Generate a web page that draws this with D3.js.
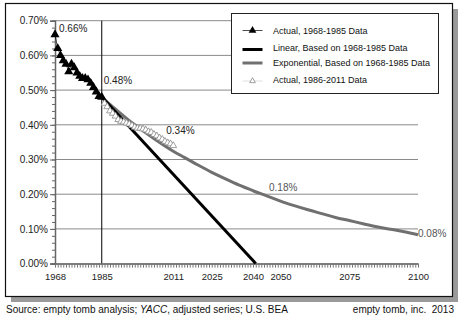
<!DOCTYPE html>
<html>
<head>
<meta charset="utf-8">
<script src="https://cdn.jsdelivr.net/npm/d3@7"></script>
<style>
  body { margin: 0; background: #fff; }
  svg { font-family: "Liberation Sans", Arial, sans-serif; }
</style>
</head>
<body>
<svg id="chart"></svg>
<script>
const size = { width: 465, height: 321 };
const margin = { top: 20.7, right: 47, bottom: 57.4, left: 55 };

// actual giving, percent of income
const years1 = [1968, 1969, 1970, 1971, 1972, 1973, 1974, 1975, 1976, 1977, 1978, 1979, 1980, 1981, 1982, 1983, 1984, 1985];
const actual1 = [0.66, 0.62, 0.6, 0.585, 0.575, 0.553, 0.575, 0.565, 0.55, 0.54, 0.534, 0.534, 0.53, 0.52, 0.508, 0.495, 0.482, 0.48];

const years2 = [1986, 1987, 1988, 1989, 1990, 1991, 1992, 1993, 1994, 1995, 1996, 1997, 1998, 1999, 2000, 2001, 2002, 2003, 2004, 2005, 2006, 2007, 2008, 2009, 2010, 2011];
const actual2 = [0.462, 0.452, 0.44, 0.433, 0.425, 0.415, 0.41, 0.408, 0.405, 0.402, 0.398, 0.393, 0.39, 0.39, 0.388, 0.385, 0.38, 0.378, 0.372, 0.368, 0.362, 0.358, 0.352, 0.348, 0.345, 0.34];

// trend lines fitted on 1968-1985
const linearYears = [1985, 2041];
const linearVals = [0.48, 0];
const expYears = [1985, 1990, 1995, 2000, 2005, 2011, 2015, 2020, 2025, 2030, 2035, 2040, 2045, 2050, 2055, 2060, 2065, 2070, 2075, 2080, 2085, 2090, 2095, 2100];
const expVals = [0.48, 0.445, 0.412, 0.383, 0.355, 0.324, 0.306, 0.284, 0.263, 0.244, 0.226, 0.21, 0.195, 0.18, 0.167, 0.155, 0.144, 0.133, 0.124, 0.115, 0.106, 0.099, 0.092, 0.083];

const xTicks = [1968, 1985, 2011, 2025, 2040, 2050, 2075, 2100];
const yTicks = [0, 0.1, 0.2, 0.3, 0.4, 0.5, 0.6, 0.7];

const legendItems = [
  "Actual, 1968-1985 Data",
  "Linear, Based on 1968-1985 Data",
  "Exponential, Based on 1968-1985 Data",
  "Actual, 1986-2011 Data"
];

const pct = (v) => d3.format(".2f")(v) + "%";

const svg = d3.select("#chart").attr("width", size.width).attr("height", size.height);

// frame with drop shadow
svg.append("rect")
  .attr("x", 11).attr("y", 9).attr("width", 447).attr("height", 293)
  .attr("fill", "#9a9a9a");
svg.append("rect")
  .attr("x", 5.5).attr("y", 3.5).attr("width", 447).attr("height", 293)
  .attr("fill", "#fff").attr("stroke", "#111").attr("stroke-width", 1.2);

const x = d3.scaleLinear()
  .domain([1968, 2100])
  .range([margin.left, size.width - margin.right]);

const y = d3.scaleLinear()
  .domain([0, 0.7])
  .range([size.height - margin.bottom, margin.top]);

// gridlines
svg.append("g")
  .selectAll("line")
  .data(yTicks.filter((d) => d > 0))
  .enter()
  .append("line")
  .attr("x1", x(1968)).attr("x2", x(2100))
  .attr("y1", (d) => y(d)).attr("y2", (d) => y(d))
  .attr("stroke", "#8a8a8a").attr("stroke-width", 1);

// 1985 divider
svg.append("line")
  .attr("x1", x(1985)).attr("x2", x(1985))
  .attr("y1", y(0.7)).attr("y2", y(0))
  .attr("stroke", "#000").attr("stroke-width", 1);

// y axis: labelled every 0.1%, minor ticks every 0.02%
const yAxis = svg.append("g")
  .attr("transform", `translate(${margin.left}, 0)`)
  .style("font-size", "10px");
yAxis.call(d3.axisLeft(y).tickValues(d3.range(0, 0.7001, 0.02)).tickSize(3).tickFormat(""));
yAxis.call((g) => g.selectAll("line, path").attr("stroke", "#666"));
const yMajor = svg.append("g")
  .attr("transform", `translate(${margin.left}, 0)`)
  .style("font-family", "Liberation Sans, Arial, sans-serif")
  .style("font-size", "10px")
  .call(d3.axisLeft(y).tickValues(yTicks).tickSize(5).tickPadding(2).tickFormat(pct));
yMajor.select(".domain").attr("stroke", "#666").attr("stroke-width", 1.5);
yMajor.selectAll("line").attr("stroke", "#666");
yMajor.selectAll("text").attr("fill", "#222");

// x axis: a tick every year, labels on selected years
const xAxis = svg.append("g")
  .attr("transform", `translate(0, ${y(0)})`)
  .call(d3.axisBottom(x).tickValues(d3.range(1968, 2101)).tickSize(4).tickSizeOuter(0).tickFormat(""));
xAxis.selectAll("line").attr("stroke", "#777");
xAxis.select(".domain").attr("stroke", "#555").attr("stroke-width", 1.5);
const xLab = svg.append("g")
  .attr("transform", `translate(0, ${y(0)})`)
  .style("font-family", "Liberation Sans, Arial, sans-serif")
  .style("font-size", "9.5px")
  .call(d3.axisBottom(x).tickValues(xTicks).tickSize(0).tickPadding(10).tickFormat(d3.format("d")));
xLab.select(".domain").remove();
xLab.selectAll("text").attr("fill", "#222");

// trend lines
const expData = expYears.map((yr, i) => ({ year: yr, value: expVals[i] }));
const linData = linearYears.map((yr, i) => ({ year: yr, value: linearVals[i] }));
const act1 = years1.map((yr, i) => ({ year: yr, value: actual1[i] }));
const act2 = years2.map((yr, i) => ({ year: yr, value: actual2[i] }));

const line = d3.line()
  .x((d) => x(d.year))
  .y((d) => y(d.value));

svg.append("path")
  .datum(expData)
  .attr("d", line.curve(d3.curveMonotoneX))
  .attr("fill", "none")
  .attr("stroke", "#707070")
  .attr("stroke-width", 3);

svg.append("path")
  .datum(linData)
  .attr("d", d3.line().x((d) => x(d.year)).y((d) => y(d.value)))
  .attr("fill", "none")
  .attr("stroke", "#000")
  .attr("stroke-width", 3);

// 1986-2011 actuals
svg.append("path")
  .datum(act2)
  .attr("d", d3.line().x((d) => x(d.year)).y((d) => y(d.value)))
  .attr("fill", "none")
  .attr("stroke", "#bbb")
  .attr("stroke-width", 0.6);

svg.append("g")
  .selectAll("path")
  .data(act2)
  .enter()
  .append("path")
  .attr("transform", (d) => `translate(${x(d.year)}, ${y(d.value)})`)
  .attr("d", d3.symbol(d3.symbolTriangle, 20))
  .attr("fill", "#fff")
  .attr("stroke", "#888")
  .attr("stroke-width", 0.8);

// 1968-1985 actuals
svg.append("path")
  .datum(act1)
  .attr("d", d3.line().x((d) => x(d.year)).y((d) => y(d.value)))
  .attr("fill", "none")
  .attr("stroke", "#000")
  .attr("stroke-width", 0.7);

svg.append("g")
  .selectAll("path")
  .data(act1)
  .enter()
  .append("path")
  .attr("transform", (d) => `translate(${x(d.year)}, ${y(d.value)})`)
  .attr("d", d3.symbol(d3.symbolTriangle, 36))
  .attr("fill", "#000");

// value labels
const labels = [
  { year: 1968, value: actual1[0], dx: 4, dy: -3 },
  { year: 1985, value: actual1[actual1.length - 1], dx: 2, dy: -13 },
  { year: 2011, value: actual2[actual2.length - 1], dx: -7, dy: -11.5 },
  { year: 2050, value: expVals[expYears.indexOf(2050)], dx: -11.5, dy: -10 },
  { year: 2100, value: expVals[expYears.length - 1], dx: 0, dy: 2.5 }
];
svg.append("g")
  .style("font-size", "10px")
  .selectAll("text")
  .data(labels)
  .enter()
  .append("text")
  .attr("x", (d) => x(d.year) + d.dx)
  .attr("y", (d) => y(d.value) + d.dy)
  .attr("fill", (d) => (d.year > 2040 ? "#555" : "#222"))
  .text((d) => pct(d.value));

// legend
const legend = svg.append("g").attr("transform", "translate(231.5, 13.5)");
legend.append("rect")
  .attr("width", 207).attr("height", 80)
  .attr("fill", "#fff").attr("stroke", "#222").attr("stroke-width", 1);

const rowY = [17, 34, 49, 66];
legendItems.forEach((name, i) => {
  const row = legend.append("g").attr("transform", `translate(0, ${rowY[i]})`);
  if (i === 0) {
    row.append("line").attr("x1", 11).attr("x2", 31).attr("stroke", "#000").attr("stroke-width", 0.7);
    row.append("path").attr("transform", "translate(21, 0)").attr("d", d3.symbol(d3.symbolTriangle, 26)).attr("fill", "#000");
  } else if (i === 1) {
    row.append("line").attr("x1", 11).attr("x2", 31).attr("y1", 2).attr("y2", 2).attr("stroke", "#000").attr("stroke-width", 3);
  } else if (i === 2) {
    row.append("line").attr("x1", 11).attr("x2", 31).attr("y1", 0.5).attr("y2", 0.5).attr("stroke", "#707070").attr("stroke-width", 3);
  } else {
    row.append("line").attr("x1", 11).attr("x2", 31).attr("y1", 1.5).attr("y2", 1.5).attr("stroke", "#ccc").attr("stroke-width", 0.6);
    row.append("path").attr("transform", "translate(21, 1.5)").attr("d", d3.symbol(d3.symbolTriangle, 14)).attr("fill", "#fff").attr("stroke", "#888").attr("stroke-width", 0.8);
  }
  row.append("text")
    .attr("x", 41.5)
    .attr("y", 3)
    .style("font-size", "9px")
    .attr("fill", "#111")
    .text(name);
});

// source line
const foot = svg.append("text").attr("x", 6).attr("y", 313).style("font-size", "10px").attr("fill", "#111");
foot.append("tspan").text("Source: empty tomb analysis; ");
foot.append("tspan").style("font-style", "italic").text("YACC");
foot.append("tspan").text(", adjusted series; U.S. BEA");

svg.append("text")
  .attr("x", 454).attr("y", 313)
  .attr("text-anchor", "end")
  .style("font-size", "10px")
  .style("white-space", "pre")
  .attr("fill", "#111")
  .text("empty tomb, inc.  2013");
</script>
</body>
</html>
